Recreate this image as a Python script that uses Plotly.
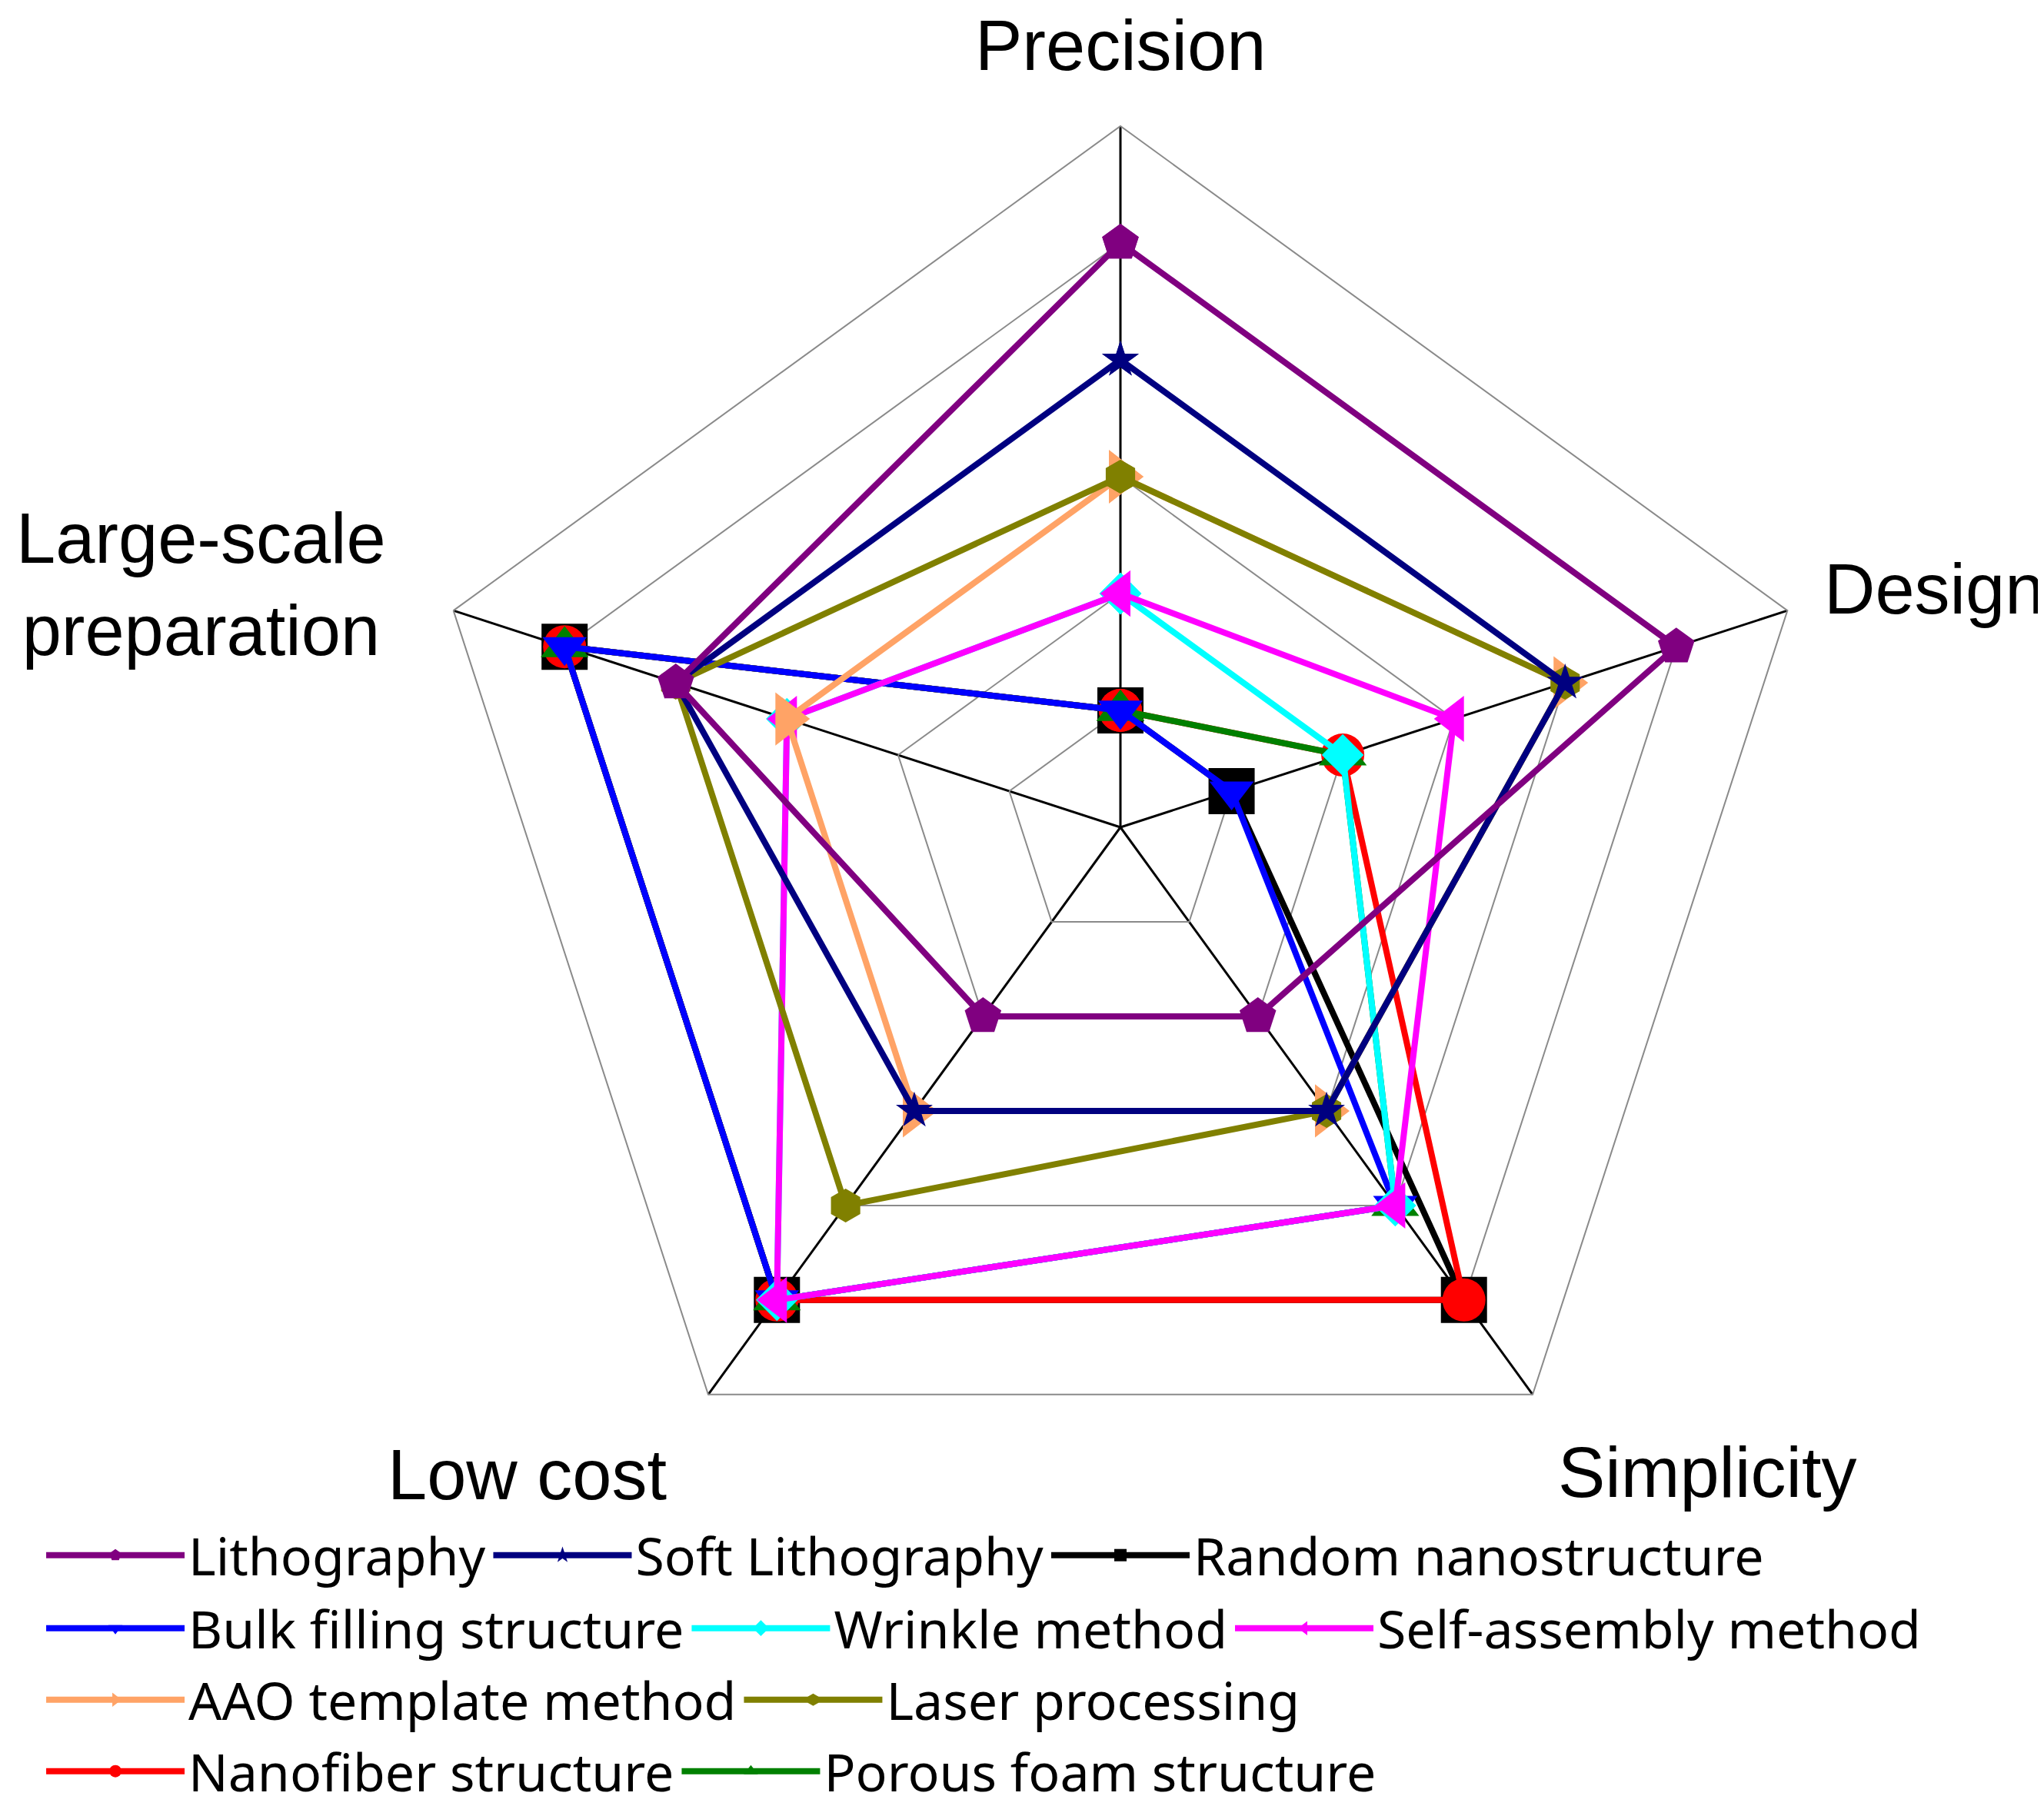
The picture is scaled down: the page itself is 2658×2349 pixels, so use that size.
import plotly.graph_objects as go

categories = ["Precision", "Design", "Simplicity", "Low cost", "Large-scale preparation"]

# Series values (score 0-6) on each axis, order as categories
lithography = [5, 5, 2, 2, 4]
soft_lithography = [4, 4, 3, 3, 4]
random_nano = [1, 1, 5, 5, 5]
bulk_filling = [1, 1, 4, 5, 5]
wrinkle = [2, 2, 4, 5, 3]
self_assembly = [2, 3, 4, 5, 3]
aao_template = [3, 4, 3, 3, 3]
laser = [3, 4, 3, 4, 4]
nanofiber = [1, 2, 5, 5, 5]
porous_foam = [1, 2, 4, 5, 5]

# (name, values, color, symbol, marker size, legend id, rank) in drawing order (bottom -> top)
series = [
    ("Random nanostructure", random_nano, "#000000", "square", 60, "legend", 3),
    ("Nanofiber structure", nanofiber, "#FF0000", "circle", 56, "legend4", 1),
    ("Porous foam structure", porous_foam, "#008000", "triangle-up", 54, "legend4", 2),
    ("Bulk filling structure", bulk_filling, "#0000FF", "triangle-down", 50, "legend2", 1),
    ("Wrinkle method", wrinkle, "#00FFFF", "diamond", 42, "legend2", 2),
    ("Self-assembly method", self_assembly, "#FF00FF", "triangle-left", 52, "legend2", 3),
    ("AAO template method", aao_template, "#FFA366", "triangle-right", 60, "legend3", 1),
    ("Laser processing", laser, "#808000", "hexagon", 44, "legend3", 2),
    ("Soft Lithography", soft_lithography, "#000080", "star", 36, "legend", 2),
    ("Lithography", lithography, "#800080", "pentagon", 50, "legend", 1),
]

fig = go.Figure()
for name, vals, color, sym, msize, leg, rank in series:
    fig.add_trace(go.Scatterpolar(
        r=vals + vals[:1],
        theta=categories + categories[:1],
        mode="lines+markers",
        name=name,
        line=dict(color=color, width=8),
        marker=dict(symbol=sym, size=msize, color=color, line=dict(width=0)),
        legend=leg,
        legendrank=rank,
        cliponaxis=False,
    ))

W, H = 2658, 2349
cx, cy, R = 1449, 1068, 912

legend_common = dict(
    orientation="h",
    xanchor="left",
    yanchor="middle",
    font=dict(family="Noto Sans", size=68, color="black"),
    itemwidth=180,
    bgcolor="rgba(0,0,0,0)",
    traceorder="normal",
    tracegroupgap=0,
)

legend_x = 0.0177
fig.update_layout(
    width=W, height=H,
    margin=dict(l=0, r=0, t=0, b=0),
    paper_bgcolor="white",
    plot_bgcolor="white",
    polar=dict(
        domain=dict(x=[(cx - R) / W, (cx + R) / W], y=[(H - cy - R) / H, (H - cy + R) / H]),
        gridshape="linear",
        bgcolor="white",
        radialaxis=dict(range=[0, 6], dtick=1, showticklabels=False, ticks="",
                        showline=False, gridcolor="#8a8a8a", gridwidth=2),
        angularaxis=dict(rotation=90, direction="clockwise", showticklabels=False,
                         ticks="", showline=True, linecolor="#8a8a8a", linewidth=2,
                         gridcolor="#000000", gridwidth=3),
    ),
    legend=dict(x=legend_x, y=1 - 2015 / H, **legend_common),
    legend2=dict(x=legend_x, y=1 - 2110 / H, **legend_common),
    legend3=dict(x=legend_x, y=1 - 2203 / H, **legend_common),
    legend4=dict(x=legend_x, y=1 - 2296 / H, **legend_common),
    showlegend=True,
)

label_font = dict(family="Liberation Sans", size=92, color="black")
labels = [
    ("Precision", 1449, 51, "center"),
    ("Design", 2652, 758, "right"),
    ("Simplicity", 2212, 1907, "center"),
    ("Low cost", 677, 1910, "center"),
    ("Large-scale<br>preparation", 254, 752, "center"),
]
for text, x, y, anchor in labels:
    fig.add_annotation(text=text, x=x / W, y=1 - y / H, xref="paper", yref="paper",
                       xanchor=anchor, yanchor="middle", showarrow=False,
                       font=label_font, align="center")

fig.write_html("out.html")
